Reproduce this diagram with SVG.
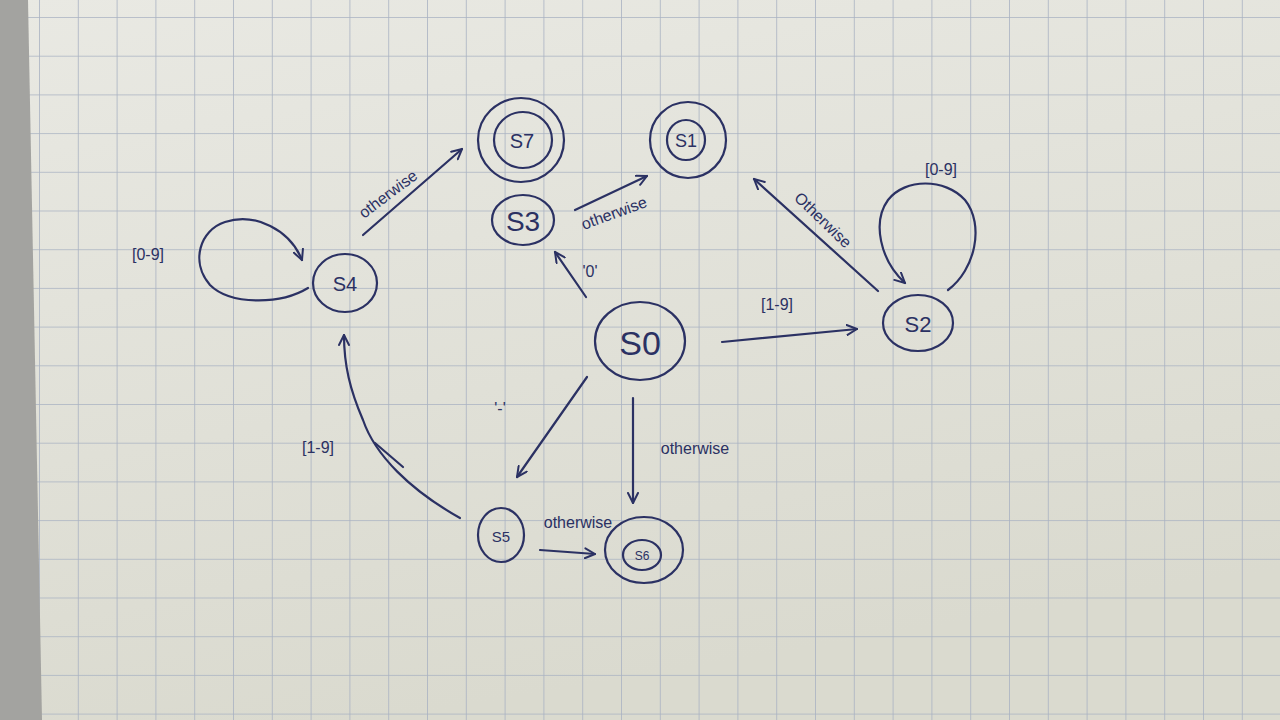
<svg xmlns="http://www.w3.org/2000/svg" width="1280" height="720" viewBox="0 0 1280 720">
<defs>
<linearGradient id="paper" x1="0" y1="0" x2="0.3" y2="1">
<stop offset="0" stop-color="#e9e9e3"/>
<stop offset="1" stop-color="#dadacf"/>
</linearGradient>
<pattern id="grid" patternUnits="userSpaceOnUse" x="39" y="17" width="38.8" height="38.7">
<path d="M0 0 H38.8 M0 0 V38.7" stroke="#a9b2c2" stroke-width="1.6" fill="none"/>
</pattern>
<marker id="arr" viewBox="0 0 12 12" refX="11" refY="6" markerWidth="12" markerHeight="12" markerUnits="userSpaceOnUse" orient="auto">
<path d="M1 1 L11 6 L1 11" fill="none" stroke="#2b3163" stroke-width="2" stroke-linecap="round" stroke-linejoin="round"/>
</marker>
<style>
.ink{fill:none;stroke:#2b3163;stroke-width:2.2;stroke-linecap:round}
.e{fill:none;stroke:#2b3163;stroke-width:2.2;stroke-linecap:round;marker-end:url(#arr)}
.t{font-family:"Liberation Sans",Arial,sans-serif;fill:#2b3163;text-anchor:middle;dominant-baseline:central}
.lb{font-family:"Liberation Sans",Arial,sans-serif;fill:#2b3163;font-size:16px;text-anchor:middle;dominant-baseline:central}
</style>
</defs>
<rect x="0" y="0" width="1280" height="720" fill="url(#paper)"/>
<rect x="0" y="0" width="1280" height="720" fill="url(#grid)"/>
<polygon points="0,0 28,0 42,720 0,720" fill="#a3a3a0"/>

<g id="connectors">
<line class="e" x1="363" y1="235" x2="462" y2="149"/>
<line class="e" x1="575" y1="210" x2="647" y2="176"/>
<line class="e" x1="586" y1="297" x2="555" y2="252"/>
<line class="e" x1="722" y1="342" x2="857" y2="329"/>
<line class="e" x1="878" y1="291" x2="754" y2="179"/>
<path class="e" d="M948 290 C 975 270 985 225 965 200 C 945 178 905 178 888 200 C 872 222 880 260 905 283"/>
<path class="e" d="M308 288 C 280 305 230 305 210 285 C 190 262 200 230 225 222 C 255 212 290 230 302 260"/>
<path class="e" d="M460 518 C 410 490 375 455 363 420 C 350 390 344 365 344 335"/>
<line class="ink" x1="403" y1="467" x2="375" y2="443"/>
<line class="e" x1="587" y1="377" x2="517" y2="477"/>
<line class="e" x1="633" y1="398" x2="633" y2="503"/>
<line class="e" x1="540" y1="550" x2="595" y2="554"/>
</g>

<g id="labels">
<text class="lb" x="388" y="194" transform="rotate(-37 388 194)">otherwise</text>
<text class="lb" x="614" y="213" transform="rotate(-20 614 213)">otherwise</text>
<text class="lb" x="590" y="271">'0'</text>
<text class="lb" x="777" y="304">[1-9]</text>
<text class="lb" x="823" y="220" transform="rotate(44 823 220)">Otherwise</text>
<text class="lb" x="941" y="169">[0-9]</text>
<text class="lb" x="148" y="254">[0-9]</text>
<text class="lb" x="318" y="447">[1-9]</text>
<text class="lb" x="500" y="408">'-'</text>
<text class="lb" x="695" y="448">otherwise</text>
<text class="lb" x="578" y="522">otherwise</text>
</g>

<g id="S7">
<ellipse class="ink" cx="521" cy="140" rx="43" ry="42"/>
<ellipse class="ink" cx="523" cy="140" rx="29" ry="28"/>
<text class="t" x="522" y="141" font-size="20">S7</text>
</g>
<g id="S1">
<ellipse class="ink" cx="688" cy="140" rx="38" ry="38"/>
<ellipse class="ink" cx="686" cy="140" rx="19" ry="20"/>
<text class="t" x="686" y="141" font-size="18">S1</text>
</g>
<g id="S3">
<ellipse class="ink" cx="523" cy="220" rx="31" ry="25"/>
<text class="t" x="523" y="221" font-size="28">S3</text>
</g>
<g id="S4">
<ellipse class="ink" cx="345" cy="283" rx="32" ry="29"/>
<text class="t" x="345" y="284" font-size="20">S4</text>
</g>
<g id="S0">
<ellipse class="ink" cx="640" cy="341" rx="45" ry="39"/>
<text class="t" x="640" y="343" font-size="34">S0</text>
</g>
<g id="S2">
<ellipse class="ink" cx="918" cy="323" rx="35" ry="28"/>
<text class="t" x="918" y="324" font-size="22">S2</text>
</g>
<g id="S5">
<ellipse class="ink" cx="501" cy="535" rx="23" ry="27"/>
<text class="t" x="501" y="536" font-size="15">S5</text>
</g>
<g id="S6">
<ellipse class="ink" cx="644" cy="550" rx="39" ry="33"/>
<ellipse class="ink" cx="642" cy="555" rx="19" ry="15"/>
<text class="t" x="642" y="556" font-size="12">S6</text>
</g>
</svg>
